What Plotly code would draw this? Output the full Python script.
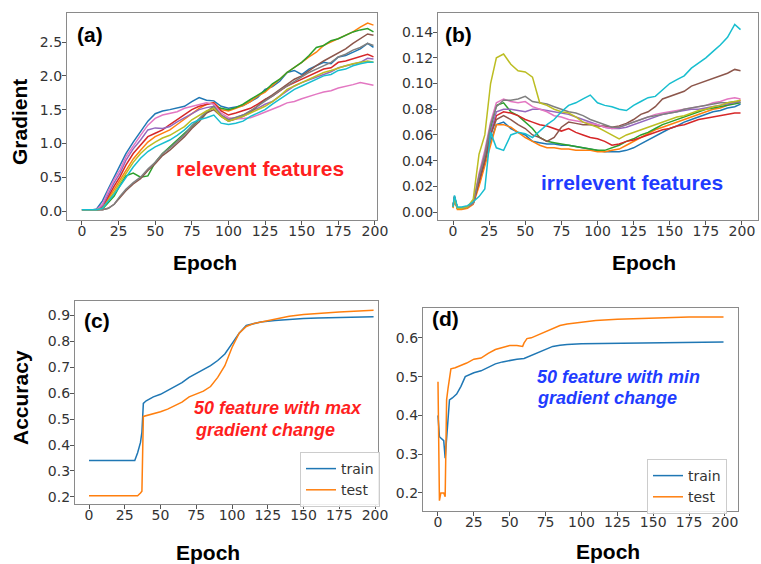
import plotly.graph_objects as go

W, H = 761, 564

# ---------------- data ----------------
EPOCHS_TOP = [0, 1, 3, 6, 10, 14, 18, 22, 26] + list(range(30, 200, 5)) + [199]

# panel (a): relevant features gradient
a_blue = [0.02,0.02,0.01,0.01,0.03,0.15,0.33,0.5,0.66,
          0.85,1.02,1.18,1.33,1.44,1.48,1.5,1.53,1.55,1.62,1.68,1.64,1.63,1.55,1.52,1.54,1.56,1.62,1.68,1.8,1.84,1.92,2.05,2.08,2.02,2.1,2.15,2.2,2.18,2.28,2.3,2.35,2.4,2.48,2.42]
a_orange = [0.02,0.02,0.01,0.01,0.02,0.05,0.18,0.32,0.46,
            0.6,0.77,0.9,1.02,1.1,1.15,1.2,1.28,1.36,1.45,1.52,1.58,1.6,1.5,1.48,1.52,1.56,1.62,1.7,1.76,1.85,1.95,2.05,2.12,2.2,2.28,2.35,2.45,2.5,2.55,2.6,2.65,2.72,2.78,2.75]
a_green = [0.02,0.02,0.01,0.01,0.02,0.03,0.12,0.22,0.38,
           0.52,0.56,0.5,0.52,0.72,0.85,0.95,1.05,1.15,1.25,1.35,1.45,1.55,1.52,1.5,1.53,1.58,1.65,1.72,1.78,1.88,1.95,2.05,2.12,2.2,2.3,2.42,2.45,2.52,2.55,2.6,2.65,2.68,2.7,2.65]
a_red = [0.02,0.02,0.01,0.01,0.02,0.06,0.22,0.37,0.51,
         0.68,0.85,0.98,1.1,1.15,1.2,1.28,1.35,1.42,1.5,1.55,1.58,1.6,1.48,1.42,1.45,1.48,1.52,1.58,1.65,1.7,1.78,1.85,1.9,1.95,2.0,2.05,2.1,2.12,2.2,2.22,2.25,2.28,2.32,2.28]
a_purple = [0.02,0.02,0.01,0.01,0.02,0.08,0.26,0.42,0.56,
            0.75,0.92,1.05,1.2,1.23,1.22,1.25,1.32,1.38,1.43,1.5,1.53,1.55,1.42,1.36,1.38,1.42,1.48,1.52,1.58,1.62,1.7,1.78,1.85,1.9,1.94,1.98,2.02,2.06,2.12,2.15,2.18,2.2,2.26,2.25]
a_brown = [0.02,0.02,0.01,0.01,0.01,0.02,0.04,0.1,0.2,
           0.3,0.4,0.48,0.6,0.7,0.82,0.9,1.0,1.1,1.22,1.32,1.45,1.5,1.4,1.33,1.36,1.4,1.46,1.55,1.65,1.72,1.8,1.88,1.95,2.0,2.08,2.15,2.22,2.28,2.35,2.4,2.48,2.55,2.62,2.6]
a_pink = [0.02,0.02,0.01,0.01,0.02,0.1,0.3,0.47,0.61,
          0.8,0.97,1.12,1.27,1.37,1.42,1.45,1.47,1.52,1.55,1.57,1.6,1.58,1.45,1.38,1.36,1.37,1.38,1.42,1.46,1.5,1.55,1.6,1.62,1.66,1.7,1.73,1.76,1.78,1.82,1.84,1.87,1.9,1.88,1.86]
a_gray = [0.02,0.02,0.01,0.01,0.01,0.02,0.04,0.1,0.22,
          0.32,0.42,0.5,0.62,0.72,0.85,0.93,1.03,1.13,1.26,1.36,1.47,1.55,1.42,1.35,1.38,1.42,1.48,1.55,1.62,1.7,1.78,1.85,1.92,1.98,2.05,2.1,2.15,2.2,2.28,2.32,2.38,2.42,2.48,2.45]
a_olive = [0.02,0.02,0.01,0.01,0.02,0.04,0.16,0.28,0.42,
           0.56,0.72,0.85,0.95,1.02,1.08,1.12,1.18,1.25,1.35,1.42,1.48,1.52,1.4,1.33,1.36,1.4,1.45,1.5,1.55,1.62,1.7,1.8,1.85,1.9,1.95,2.0,2.05,2.08,2.12,2.15,2.18,2.2,2.22,2.2]
a_cyan = [0.02,0.02,0.02,0.02,0.02,0.04,0.14,0.25,0.37,
          0.5,0.65,0.78,0.88,0.95,1.0,1.05,1.12,1.2,1.3,1.35,1.38,1.42,1.3,1.28,1.3,1.33,1.4,1.45,1.5,1.58,1.65,1.72,1.8,1.85,1.9,1.95,2.0,2.02,2.08,2.1,2.15,2.18,2.2,2.2]

# panel (b): irrelevant features gradient
b_blue = [.004,.012,.003,.003,.004,.007,.022,.038,.055,
          .068,.07,.065,.062,.06,.055,.054,.053,.053,.052,.052,.051,.05,.049,.048,.047,.047,.047,.048,.05,.053,.056,.059,.062,.065,.067,.07,.072,.074,.076,.078,.079,.081,.082,.084]
b_orange = [.003,.01,.002,.002,.003,.006,.02,.035,.052,
            .068,.068,.066,.062,.058,.055,.052,.05,.05,.049,.049,.048,.048,.048,.047,.047,.048,.049,.052,.055,.058,.061,.064,.066,.068,.07,.072,.074,.076,.078,.08,.081,.083,.085,.087]
b_green = [.004,.011,.003,.003,.004,.007,.025,.042,.065,
           .083,.085,.078,.075,.07,.065,.058,.055,.054,.053,.052,.051,.05,.049,.048,.048,.05,.052,.055,.057,.06,.062,.065,.068,.07,.072,.074,.076,.078,.08,.081,.082,.083,.084,.085]
b_red = [.004,.012,.003,.003,.004,.007,.024,.04,.06,
         .075,.078,.077,.075,.072,.07,.068,.067,.065,.063,.065,.062,.06,.058,.057,.055,.052,.053,.055,.056,.058,.06,.062,.064,.065,.067,.068,.07,.072,.073,.074,.075,.076,.077,.077]
b_purple = [.004,.01,.003,.003,.004,.007,.026,.042,.062,
            .078,.08,.08,.079,.078,.08,.08,.079,.078,.077,.076,.074,.072,.07,.068,.066,.065,.065,.066,.068,.07,.072,.074,.076,.077,.078,.079,.08,.08,.081,.082,.083,.084,.085,.086]
b_brown = [.004,.011,.003,.003,.004,.007,.024,.04,.06,
           .072,.075,.072,.068,.065,.06,.058,.055,.058,.066,.07,.069,.068,.068,.067,.067,.066,.067,.069,.072,.076,.078,.082,.088,.09,.092,.094,.098,.1,.102,.104,.106,.108,.111,.11]
b_pink = [.004,.011,.003,.003,.004,.007,.03,.048,.07,
          .085,.088,.086,.085,.086,.082,.08,.078,.075,.074,.072,.071,.07,.069,.068,.066,.065,.066,.068,.07,.072,.074,.076,.077,.078,.079,.08,.081,.082,.083,.085,.086,.088,.089,.088]
b_gray = [.004,.012,.003,.003,.004,.007,.028,.045,.068,
          .082,.087,.087,.088,.09,.086,.085,.084,.082,.08,.078,.077,.075,.072,.07,.068,.066,.066,.068,.07,.072,.074,.075,.076,.077,.078,.08,.081,.082,.083,.084,.085,.085,.086,.085]
b_olive = [.004,.01,.003,.003,.004,.01,.045,.06,.1,
           .12,.123,.115,.11,.109,.105,.085,.083,.08,.078,.077,.074,.07,.068,.066,.063,.06,.057,.06,.062,.064,.066,.068,.07,.072,.074,.075,.077,.079,.08,.082,.083,.085,.086,.087]
b_cyan = [.004,.013,.004,.004,.005,.008,.012,.018,.062,
          .05,.048,.06,.062,.061,.058,.063,.068,.072,.078,.083,.085,.088,.091,.085,.083,.082,.08,.079,.083,.086,.089,.09,.095,.1,.103,.106,.112,.116,.12,.125,.13,.136,.146,.142]

# panel (c): 50 features with max gradient change
c_train_epoch = [0,32,34,36,37,38,40,45,50,55,60,65,70,75,80,85,90,95,100,105,110,115,120,130,140,150,160,175,199]
c_train = [.34,.34,.37,.41,.45,.56,.57,.585,.595,.61,.625,.64,.66,.675,.69,.705,.725,.75,.79,.83,.86,.868,.873,.879,.884,.887,.889,.891,.893]
c_test_epoch = [0,34,36,37,38,40,45,50,55,60,65,70,75,80,85,90,95,100,105,110,115,120,125,130,140,150,160,175,199]
c_test = [.205,.205,.215,.222,.51,.513,.52,.528,.538,.55,.565,.585,.595,.607,.625,.66,.705,.775,.83,.856,.867,.873,.878,.885,.895,.902,.907,.912,.918]

# panel (d): 50 features with min gradient change
d_train_epoch = [0,1,4,5,8,10,13,16,19,22,25,30,35,40,45,50,55,60,65,70,75,80,85,90,100,120,150,175,199]
d_train = [.4,.345,.335,.29,.44,.445,.455,.475,.5,.505,.51,.515,.525,.533,.538,.542,.545,.547,.555,.562,.572,.578,.581,.583,.585,.586,.587,.588,.589]
d_test_epoch = [0,1,2,4,5,6,7,9,12,15,20,25,30,35,40,45,50,55,59,60,62,65,70,75,80,85,90,100,110,125,150,175,199]
d_test = [.487,.18,.2,.2,.19,.44,.47,.52,.523,.527,.535,.545,.548,.56,.57,.575,.58,.58,.578,.587,.598,.6,.608,.618,.625,.632,.636,.64,.645,.648,.651,.654,.654]

COLORS = ["#1f77b4", "#ff7f0e", "#2ca02c", "#d62728", "#9467bd",
          "#8c564b", "#e377c2", "#7f7f7f", "#bcbd22", "#17becf"]
A_SERIES = [a_blue, a_orange, a_green, a_red, a_purple, a_brown, a_pink, a_gray, a_olive, a_cyan]
B_SERIES = [b_blue, b_orange, b_green, b_red, b_purple, b_brown, b_pink, b_gray, b_olive, b_cyan]

# ---------------- figure ----------------
def px(x):
    return x / W

def py(y):
    return 1 - y / H

fig = go.Figure()

for s, c in zip(A_SERIES, COLORS):
    fig.add_trace(go.Scatter(x=EPOCHS_TOP, y=s, mode="lines", line=dict(color=c, width=1.5),
                             xaxis="x", yaxis="y", showlegend=False))
for s, c in zip(B_SERIES, COLORS):
    fig.add_trace(go.Scatter(x=EPOCHS_TOP, y=s, mode="lines", line=dict(color=c, width=1.5),
                             xaxis="x2", yaxis="y2", showlegend=False))

fig.add_trace(go.Scatter(x=c_train_epoch, y=c_train, mode="lines", name="train",
                         line=dict(color=COLORS[0], width=1.5), xaxis="x3", yaxis="y3", legend="legend"))
fig.add_trace(go.Scatter(x=c_test_epoch, y=c_test, mode="lines", name="test",
                         line=dict(color=COLORS[1], width=1.5), xaxis="x3", yaxis="y3", legend="legend"))
fig.add_trace(go.Scatter(x=d_train_epoch, y=d_train, mode="lines", name="train",
                         line=dict(color=COLORS[0], width=1.5), xaxis="x4", yaxis="y4", legend="legend2"))
fig.add_trace(go.Scatter(x=d_test_epoch, y=d_test, mode="lines", name="test",
                         line=dict(color=COLORS[1], width=1.5), xaxis="x4", yaxis="y4", legend="legend2"))

TICKFONT = dict(family="DejaVu Sans", size=14, color="#333333")
FRAME = "#8a8a8a"

def xax(dom, rng, anchor):
    return dict(domain=dom, range=rng, anchor=anchor, tickmode="linear", tick0=0, dtick=25,
                showline=True, linecolor=FRAME, linewidth=1.2, mirror=True, automargin=False,
                ticks="outside", ticklen=4, tickcolor="#555", showgrid=False, zeroline=False,
                ticklabelstandoff=-6, tickfont=TICKFONT)

def yax(dom, rng, anchor, t0, dt, fmt):
    return dict(domain=dom, range=rng, anchor=anchor, tickmode="linear", tick0=t0, dtick=dt,
                tickformat=fmt, showline=True, linecolor=FRAME, linewidth=1.2, mirror=True,
                automargin=False, ticklabelstandoff=-3,
                ticks="outside", ticklen=4, tickcolor="#555", showgrid=False, zeroline=False,
                tickfont=TICKFONT)

fig.update_layout(
    width=W, height=H, margin=dict(l=0, r=0, t=0, b=0),
    paper_bgcolor="white", plot_bgcolor="white",
    xaxis=xax([px(67), px(377)], [-10.2, 201.4], "y"),
    yaxis=yax([py(220), py(13)], [-0.133, 2.93], "x", 0, 0.5, ".1f"),
    xaxis2=xax([px(438), px(758)], [-10.4, 211.1], "y2"),
    yaxis2=yax([py(220), py(13)], [-0.0062, 0.1549], "x2", 0, 0.02, ".2f"),
    xaxis3=xax([px(75), px(378)], [-9.8, 202.1], "y3"),
    yaxis3=yax([py(504), py(301)], [0.173, 0.954], "x3", 0.2, 0.1, ".1f"),
    xaxis4=xax([px(423), px(738)], [-10.45, 209.1], "y4"),
    yaxis4=yax([py(511), py(308)], [0.1535, 0.677], "x4", 0.2, 0.1, ".1f"),
    legend=dict(x=px(300), y=py(452), xanchor="left", yanchor="top",
                bgcolor="rgba(255,255,255,0.85)", bordercolor="#cccccc", borderwidth=1,
                font=dict(family="DejaVu Sans", size=14, color="#333333"),
                itemwidth=30, tracegroupgap=0),
    legend2=dict(x=px(647), y=py(459), xanchor="left", yanchor="top",
                 bgcolor="rgba(255,255,255,0.85)", bordercolor="#cccccc", borderwidth=1,
                 font=dict(family="DejaVu Sans", size=14, color="#333333"),
                 itemwidth=30, tracegroupgap=0),
)

BOLD = "Liberation Sans"

def note(text, x, y, size=21, color="black", xanchor="center", yanchor="middle", angle=0, italic=False):
    fig.add_annotation(text=text, x=px(x), y=py(y), xref="paper", yref="paper",
                       xanchor=xanchor, yanchor=yanchor, showarrow=False, textangle=angle,
                       font=dict(family=BOLD, size=size, color=color, weight="bold",
                                 style="italic" if italic else "normal"))

# axis titles
note("Gradient", 19, 122, angle=-90)
note("Accuracy", 20, 398, angle=-90)
note("Epoch", 205, 262)
note("Epoch", 644, 262)
note("Epoch", 208, 552)
note("Epoch", 608, 551)

# panel tags
note("(a)", 75, 34, xanchor="left")
note("(b)", 443, 34, xanchor="left")
note("(c)", 82, 320, xanchor="left")
note("(d)", 430, 318, xanchor="left")

# in-plot labels
note("relevent features", 260, 168, size=21, color="#ff1f1f")
note("irrelevent features", 632, 182, size=21, color="#1f3cff")
note("50 feature with max", 192, 408, size=18, color="#ff1f1f", xanchor="left", italic=True)
note("gradient change", 193, 430, size=18, color="#ff1f1f", xanchor="left", italic=True)
note("50 feature with min", 535, 377, size=18, color="#1f3cff", xanchor="left", italic=True)
note("gradient change", 535, 398, size=18, color="#1f3cff", xanchor="left", italic=True)

fig.write_html("out.html", config={"displayModeBar": False},
               post_script="document.body.style.margin='0';document.body.style.overflow='hidden';")
